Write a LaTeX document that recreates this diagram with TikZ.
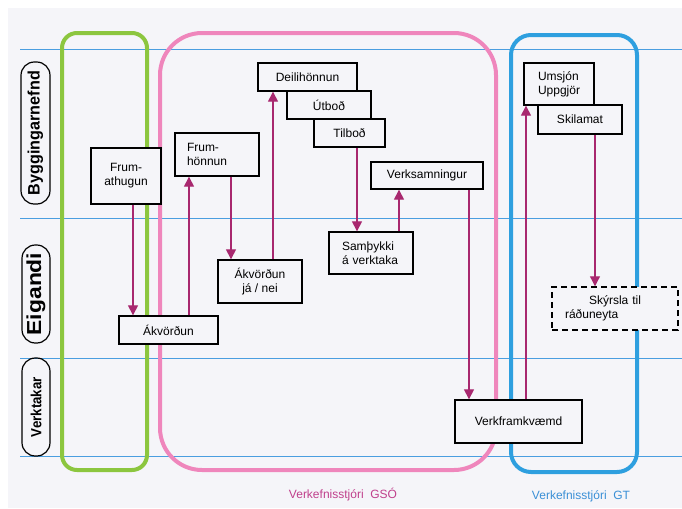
\documentclass[tikz,border=0pt]{standalone}
\usepackage{fontspec}
\setmainfont{Liberation Sans}
\usetikzlibrary{arrows.meta}
\newdimen\px \px=0.75pt
\definecolor{bg}{HTML}{F5F5F9}
\definecolor{laneblue}{HTML}{4A9EE0}
\definecolor{grn}{HTML}{8CC63F}
\definecolor{pnk}{HTML}{EF86BC}
\definecolor{blu}{HTML}{2E9FDF}
\definecolor{arrc}{HTML}{A8286F}
\definecolor{gsotext}{HTML}{C0408C}
\definecolor{gttext}{HTML}{3A8FD6}
\begin{document}
\begin{tikzpicture}[x=0.75pt,y=-0.75pt,
  txt/.style={font=\fontsize{9}{10.5}\selectfont},
  box/.style={txt, draw=black, line width=1pt, fill=bg, inner sep=0pt, align=center},
  sz/.style 2 args={minimum width=#1\px, minimum height=#2\px},
  arr/.style={draw=arrc, line width=0.9pt, -{Triangle[width=7.5pt,length=7.5pt]}},
  hline/.style={draw=laneblue, line width=0.75pt},
  frame/.style={line width=3pt},
  pill/.style={draw=black, line width=0.9pt, rounded corners=10pt, inner sep=0pt, rotate=90},
]
\useasboundingbox (0,0) rectangle (682,508);
\fill[bg] (8,8) rectangle (682,508);

% lane lines
\draw[hline] (20,49) -- (682,49);
\draw[hline] (20,218) -- (682,218);
\draw[hline] (20,358) -- (682,358);
\draw[hline] (20,456) -- (682,456);

% frames
\draw[frame, draw=grn, rounded corners=11.25pt] (62,33) rectangle (147,470);
\draw[frame, draw=pnk, rounded corners=31.5pt] (160,33) rectangle (496,470);
\draw[frame, draw=blu, rounded corners=15pt] (511,35) rectangle (637,472);

% lane labels
\node[pill, minimum width=142\px, minimum height=29\px] (lb) at (35.5,133)
  {\resizebox{93pt}{9pt}{\bfseries Byggingarnefnd}};
\node[pill, minimum width=98\px, minimum height=28\px] (le) at (36,294)
  {\resizebox{62pt}{11pt}{\bfseries Eigandi}};
\node[pill, minimum width=98\px, minimum height=28\px] (lv) at (36,407)
  {\resizebox{45pt}{8pt}{\bfseries Verktakar}};

% boxes
\node[box, sz={70}{56}] (fa) at (126,176) {Frum-\\athugun};
\node[box, sz={99}{28}] (ak1) at (168.5,330) {Ákvörðun};
\node[box, sz={84}{43}, text width=60\px, align=left] (fh) at (217,154.5) {Frum-\\hönnun};
\node[box, sz={84}{43}] (ak2) at (260,281.5) {Ákvörðun\\já / nei};
\node[box, sz={99}{28}] (dh) at (307.5,77) {Deilihönnun};
\node[box, sz={84}{28}] (ut) at (329,105) {Útboð};
\node[box, sz={71}{28}] (tb) at (349.5,133) {Tilboð};
\node[box, sz={112}{27}] (vs) at (427,175.5) {Verksamningur};
\node[box, sz={84}{42}, text width=58\px, align=left] (sa) at (371,253) {Samþykki\\á verktaka};
\node[box, sz={127}{43}] (vf) at (518.5,421.5) {Verkframkvæmd};
\node[box, sz={70}{42}, text width=42\px, align=left] (um) at (559,84) {Umsjón\\Uppgjör};
\node[box, sz={84}{29}] (sk) at (580,119.5) {Skilamat};
\node[box, sz={126}{43}, dashed, dash pattern=on 4.5pt off 3pt, line width=1.1pt, text width=100\px, align=left] (sr) at (615,308.5) {\hspace*{18pt}Skýrsla til\\ráðuneyta};

% arrow columns
\coordinate (c1) at (133,0);
\coordinate (c2) at (189,0);
\coordinate (c3) at (231,0);
\coordinate (c4) at (273,0);
\coordinate (c5) at (357,0);
\coordinate (c6) at (399,0);
\coordinate (c7) at (469,0);
\coordinate (c8) at (526,0);
\coordinate (c9) at (595,0);

\draw[arr] (fa.south -| c1) -- (ak1.north -| c1);
\draw[arr] (ak1.north -| c2) -- (fh.south -| c2);
\draw[arr] (fh.south -| c3) -- (ak2.north -| c3);
\draw[arr] (ak2.north -| c4) -- (dh.south -| c4);
\draw[arr] (tb.south -| c5) -- (sa.north -| c5);
\draw[arr] (sa.north -| c6) -- (vs.south -| c6);
\draw[arr] (vs.south -| c7) -- (vf.north -| c7);
\draw[arr] (vf.north -| c8) -- (um.south -| c8);
\draw[arr] (sk.south -| c9) -- (sr.north -| c9);

% bottom labels
\node[txt, text=gsotext] (gso) at (343,495) {Verkefnisstjóri\ \ GSÓ};
\node[txt, text=gttext] (gt) at (581,496) {Verkefnisstjóri\ \ GT};
\end{tikzpicture}
\end{document}
